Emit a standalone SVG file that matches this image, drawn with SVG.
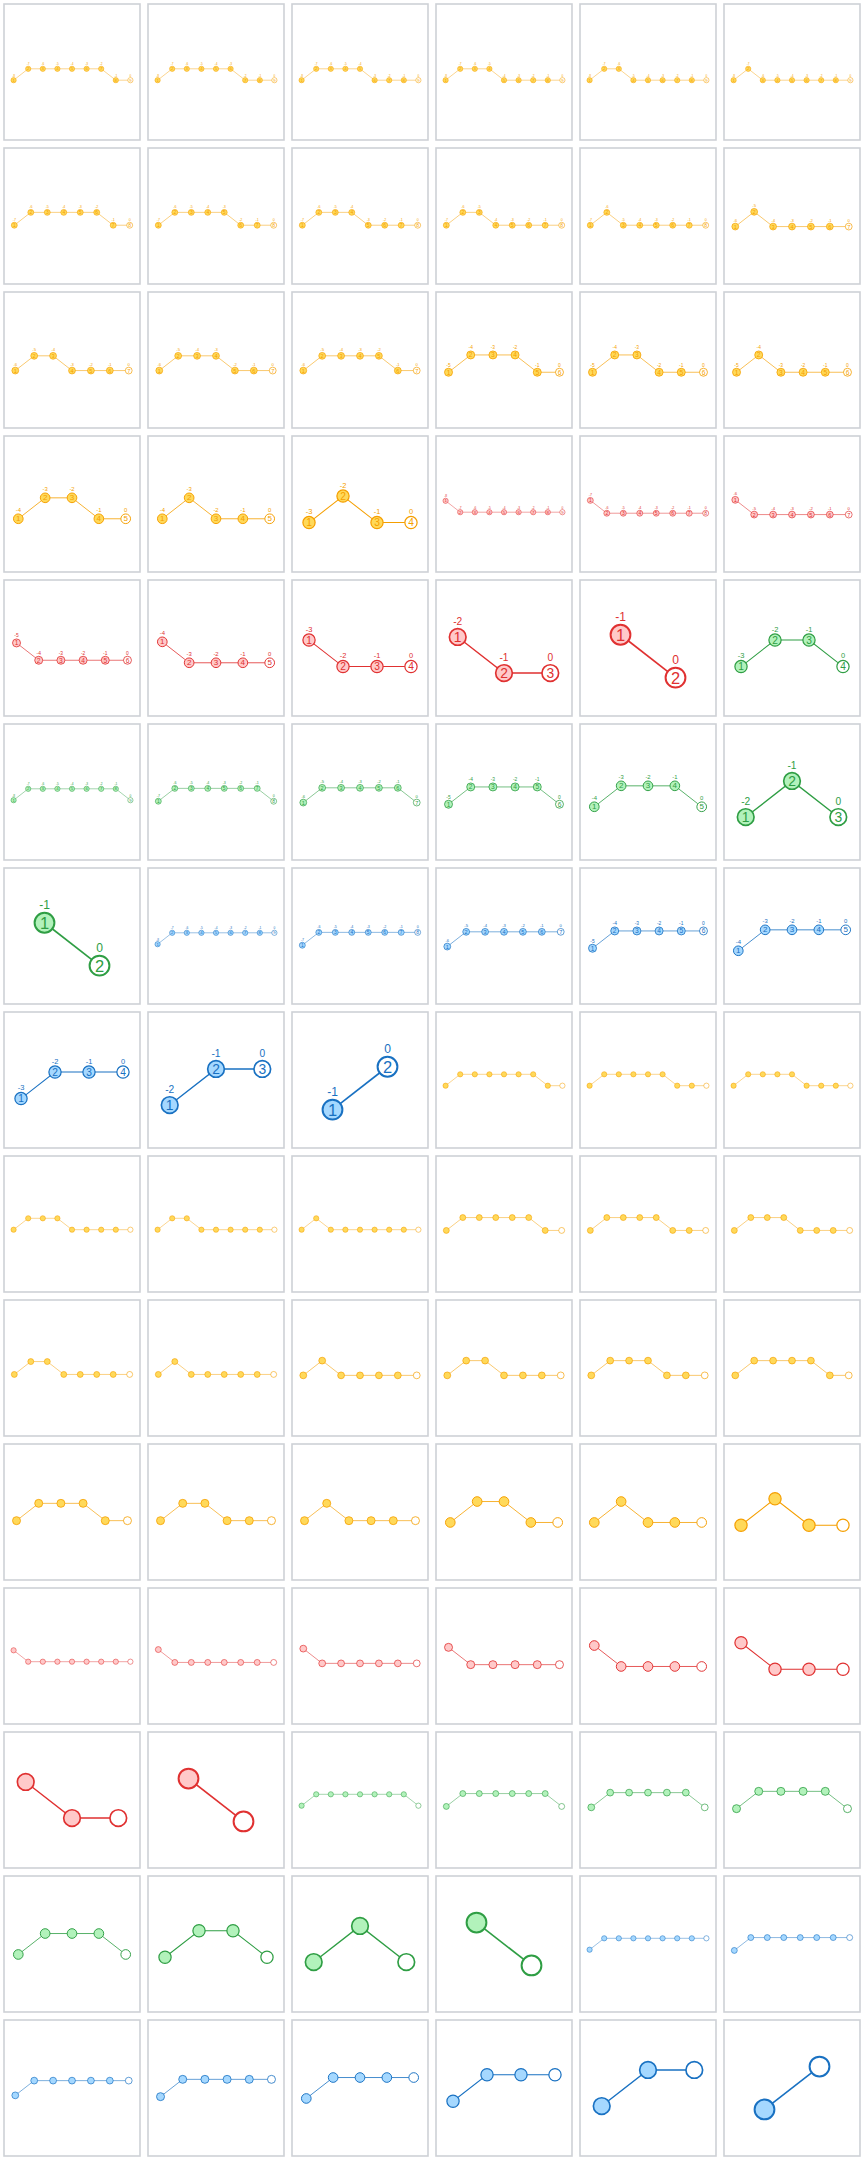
<svg xmlns="http://www.w3.org/2000/svg" width="864" height="2160" viewBox="0 0 864 2160">
<defs>
<pattern id="cell" width="144" height="144" patternUnits="userSpaceOnUse"><rect x="4" y="4" width="136" height="136" fill="#fff" stroke="#ced1d6" stroke-width="1.6"/></pattern>
</defs>
<style>
text{font-family:"Liberation Sans",sans-serif;text-anchor:middle;fill:var(--s)}
.p circle{fill:var(--f);stroke:var(--s);stroke-width:3.6}
.p>g:last-child circle{fill:#fff}
.p polyline{fill:none;stroke:var(--s);stroke-width:3}
.p text{font-size:30px;dominant-baseline:central}
.p text+text{font-size:22px;dominant-baseline:alphabetic}
.Y{--s:#f59f00;--f:#ffd95a}
.R{--s:#e03131;--f:#ffc9c9}
.G{--s:#2f9e44;--f:#b2f2bb}
.B{--s:#1971c2;--f:#a5d8ff}
</style>
<rect width="864" height="2160" fill="#fff"/>
<rect id="frames" width="864" height="2160" fill="url(#cell)"/>

<g id="f01" class="p Y" transform="translate(72,74.5) scale(.146)"><g class="e"><polyline points="-400,39 -300,-39 -200,-39 -100,-39 0,-39 100,-39 200,-39 300,39 400,39"/></g>
<g id="f01n1" transform="translate(-400,39)"><circle r="18"/><text>1</text><text y="-25">-8</text></g><g id="f01n2" transform="translate(-300,-39)"><circle r="18"/><text>2</text><text y="-25">-7</text></g><g id="f01n3" transform="translate(-200,-39)"><circle r="18"/><text>3</text><text y="-25">-6</text></g><g id="f01n4" transform="translate(-100,-39)"><circle r="18"/><text>4</text><text y="-25">-5</text></g><g id="f01n5" transform="translate(0,-39)"><circle r="18"/><text>5</text><text y="-25">-4</text></g><g id="f01n6" transform="translate(100,-39)"><circle r="18"/><text>6</text><text y="-25">-3</text></g><g id="f01n7" transform="translate(200,-39)"><circle r="18"/><text>7</text><text y="-25">-2</text></g><g id="f01n8" transform="translate(300,39)"><circle r="18"/><text>8</text><text y="-25">-1</text></g><g id="f01n9" transform="translate(400,39)"><circle r="18"/><text>9</text><text y="-25">0</text></g></g>

<g id="f02" class="p Y" transform="translate(216,74.5) scale(.146)"><g class="e"><polyline points="-400,39 -300,-39 -200,-39 -100,-39 0,-39 100,-39 200,39 300,39 400,39"/></g>
<g id="f02n1" transform="translate(-400,39)"><circle r="18"/><text>1</text><text y="-25">-8</text></g><g id="f02n2" transform="translate(-300,-39)"><circle r="18"/><text>2</text><text y="-25">-7</text></g><g id="f02n3" transform="translate(-200,-39)"><circle r="18"/><text>3</text><text y="-25">-6</text></g><g id="f02n4" transform="translate(-100,-39)"><circle r="18"/><text>4</text><text y="-25">-5</text></g><g id="f02n5" transform="translate(0,-39)"><circle r="18"/><text>5</text><text y="-25">-4</text></g><g id="f02n6" transform="translate(100,-39)"><circle r="18"/><text>6</text><text y="-25">-3</text></g><g id="f02n7" transform="translate(200,39)"><circle r="18"/><text>7</text><text y="-25">-2</text></g><g id="f02n8" transform="translate(300,39)"><circle r="18"/><text>8</text><text y="-25">-1</text></g><g id="f02n9" transform="translate(400,39)"><circle r="18"/><text>9</text><text y="-25">0</text></g></g>

<g id="f03" class="p Y" transform="translate(360,74.5) scale(.146)"><g class="e"><polyline points="-400,39 -300,-39 -200,-39 -100,-39 0,-39 100,39 200,39 300,39 400,39"/></g>
<g id="f03n1" transform="translate(-400,39)"><circle r="18"/><text>1</text><text y="-25">-8</text></g><g id="f03n2" transform="translate(-300,-39)"><circle r="18"/><text>2</text><text y="-25">-7</text></g><g id="f03n3" transform="translate(-200,-39)"><circle r="18"/><text>3</text><text y="-25">-6</text></g><g id="f03n4" transform="translate(-100,-39)"><circle r="18"/><text>4</text><text y="-25">-5</text></g><g id="f03n5" transform="translate(0,-39)"><circle r="18"/><text>5</text><text y="-25">-4</text></g><g id="f03n6" transform="translate(100,39)"><circle r="18"/><text>6</text><text y="-25">-3</text></g><g id="f03n7" transform="translate(200,39)"><circle r="18"/><text>7</text><text y="-25">-2</text></g><g id="f03n8" transform="translate(300,39)"><circle r="18"/><text>8</text><text y="-25">-1</text></g><g id="f03n9" transform="translate(400,39)"><circle r="18"/><text>9</text><text y="-25">0</text></g></g>

<g id="f04" class="p Y" transform="translate(504,74.5) scale(.146)"><g class="e"><polyline points="-400,39 -300,-39 -200,-39 -100,-39 0,39 100,39 200,39 300,39 400,39"/></g>
<g id="f04n1" transform="translate(-400,39)"><circle r="18"/><text>1</text><text y="-25">-8</text></g><g id="f04n2" transform="translate(-300,-39)"><circle r="18"/><text>2</text><text y="-25">-7</text></g><g id="f04n3" transform="translate(-200,-39)"><circle r="18"/><text>3</text><text y="-25">-6</text></g><g id="f04n4" transform="translate(-100,-39)"><circle r="18"/><text>4</text><text y="-25">-5</text></g><g id="f04n5" transform="translate(0,39)"><circle r="18"/><text>5</text><text y="-25">-4</text></g><g id="f04n6" transform="translate(100,39)"><circle r="18"/><text>6</text><text y="-25">-3</text></g><g id="f04n7" transform="translate(200,39)"><circle r="18"/><text>7</text><text y="-25">-2</text></g><g id="f04n8" transform="translate(300,39)"><circle r="18"/><text>8</text><text y="-25">-1</text></g><g id="f04n9" transform="translate(400,39)"><circle r="18"/><text>9</text><text y="-25">0</text></g></g>

<g id="f05" class="p Y" transform="translate(648,74.5) scale(.146)"><g class="e"><polyline points="-400,39 -300,-39 -200,-39 -100,39 0,39 100,39 200,39 300,39 400,39"/></g>
<g id="f05n1" transform="translate(-400,39)"><circle r="18"/><text>1</text><text y="-25">-8</text></g><g id="f05n2" transform="translate(-300,-39)"><circle r="18"/><text>2</text><text y="-25">-7</text></g><g id="f05n3" transform="translate(-200,-39)"><circle r="18"/><text>3</text><text y="-25">-6</text></g><g id="f05n4" transform="translate(-100,39)"><circle r="18"/><text>4</text><text y="-25">-5</text></g><g id="f05n5" transform="translate(0,39)"><circle r="18"/><text>5</text><text y="-25">-4</text></g><g id="f05n6" transform="translate(100,39)"><circle r="18"/><text>6</text><text y="-25">-3</text></g><g id="f05n7" transform="translate(200,39)"><circle r="18"/><text>7</text><text y="-25">-2</text></g><g id="f05n8" transform="translate(300,39)"><circle r="18"/><text>8</text><text y="-25">-1</text></g><g id="f05n9" transform="translate(400,39)"><circle r="18"/><text>9</text><text y="-25">0</text></g></g>

<g id="f06" class="p Y" transform="translate(792,74.5) scale(.146)"><g class="e"><polyline points="-400,39 -300,-39 -200,39 -100,39 0,39 100,39 200,39 300,39 400,39"/></g>
<g id="f06n1" transform="translate(-400,39)"><circle r="18"/><text>1</text><text y="-25">-8</text></g><g id="f06n2" transform="translate(-300,-39)"><circle r="18"/><text>2</text><text y="-25">-7</text></g><g id="f06n3" transform="translate(-200,39)"><circle r="18"/><text>3</text><text y="-25">-6</text></g><g id="f06n4" transform="translate(-100,39)"><circle r="18"/><text>4</text><text y="-25">-5</text></g><g id="f06n5" transform="translate(0,39)"><circle r="18"/><text>5</text><text y="-25">-4</text></g><g id="f06n6" transform="translate(100,39)"><circle r="18"/><text>6</text><text y="-25">-3</text></g><g id="f06n7" transform="translate(200,39)"><circle r="18"/><text>7</text><text y="-25">-2</text></g><g id="f06n8" transform="translate(300,39)"><circle r="18"/><text>8</text><text y="-25">-1</text></g><g id="f06n9" transform="translate(400,39)"><circle r="18"/><text>9</text><text y="-25">0</text></g></g>

<g id="f07" class="p Y" transform="translate(72,218.8) scale(.1648)"><g class="e"><polyline points="-350,39 -250,-39 -150,-39 -50,-39 50,-39 150,-39 250,39 350,39"/></g>
<g id="f07n1" transform="translate(-350,39)"><circle r="18"/><text>1</text><text y="-25">-7</text></g><g id="f07n2" transform="translate(-250,-39)"><circle r="18"/><text>2</text><text y="-25">-6</text></g><g id="f07n3" transform="translate(-150,-39)"><circle r="18"/><text>3</text><text y="-25">-5</text></g><g id="f07n4" transform="translate(-50,-39)"><circle r="18"/><text>4</text><text y="-25">-4</text></g><g id="f07n5" transform="translate(50,-39)"><circle r="18"/><text>5</text><text y="-25">-3</text></g><g id="f07n6" transform="translate(150,-39)"><circle r="18"/><text>6</text><text y="-25">-2</text></g><g id="f07n7" transform="translate(250,39)"><circle r="18"/><text>7</text><text y="-25">-1</text></g><g id="f07n8" transform="translate(350,39)"><circle r="18"/><text>8</text><text y="-25">0</text></g></g>

<g id="f08" class="p Y" transform="translate(216,218.8) scale(.1648)"><g class="e"><polyline points="-350,39 -250,-39 -150,-39 -50,-39 50,-39 150,39 250,39 350,39"/></g>
<g id="f08n1" transform="translate(-350,39)"><circle r="18"/><text>1</text><text y="-25">-7</text></g><g id="f08n2" transform="translate(-250,-39)"><circle r="18"/><text>2</text><text y="-25">-6</text></g><g id="f08n3" transform="translate(-150,-39)"><circle r="18"/><text>3</text><text y="-25">-5</text></g><g id="f08n4" transform="translate(-50,-39)"><circle r="18"/><text>4</text><text y="-25">-4</text></g><g id="f08n5" transform="translate(50,-39)"><circle r="18"/><text>5</text><text y="-25">-3</text></g><g id="f08n6" transform="translate(150,39)"><circle r="18"/><text>6</text><text y="-25">-2</text></g><g id="f08n7" transform="translate(250,39)"><circle r="18"/><text>7</text><text y="-25">-1</text></g><g id="f08n8" transform="translate(350,39)"><circle r="18"/><text>8</text><text y="-25">0</text></g></g>

<g id="f09" class="p Y" transform="translate(360,218.8) scale(.1648)"><g class="e"><polyline points="-350,39 -250,-39 -150,-39 -50,-39 50,39 150,39 250,39 350,39"/></g>
<g id="f09n1" transform="translate(-350,39)"><circle r="18"/><text>1</text><text y="-25">-7</text></g><g id="f09n2" transform="translate(-250,-39)"><circle r="18"/><text>2</text><text y="-25">-6</text></g><g id="f09n3" transform="translate(-150,-39)"><circle r="18"/><text>3</text><text y="-25">-5</text></g><g id="f09n4" transform="translate(-50,-39)"><circle r="18"/><text>4</text><text y="-25">-4</text></g><g id="f09n5" transform="translate(50,39)"><circle r="18"/><text>5</text><text y="-25">-3</text></g><g id="f09n6" transform="translate(150,39)"><circle r="18"/><text>6</text><text y="-25">-2</text></g><g id="f09n7" transform="translate(250,39)"><circle r="18"/><text>7</text><text y="-25">-1</text></g><g id="f09n8" transform="translate(350,39)"><circle r="18"/><text>8</text><text y="-25">0</text></g></g>

<g id="f10" class="p Y" transform="translate(504,218.8) scale(.1648)"><g class="e"><polyline points="-350,39 -250,-39 -150,-39 -50,39 50,39 150,39 250,39 350,39"/></g>
<g id="f10n1" transform="translate(-350,39)"><circle r="18"/><text>1</text><text y="-25">-7</text></g><g id="f10n2" transform="translate(-250,-39)"><circle r="18"/><text>2</text><text y="-25">-6</text></g><g id="f10n3" transform="translate(-150,-39)"><circle r="18"/><text>3</text><text y="-25">-5</text></g><g id="f10n4" transform="translate(-50,39)"><circle r="18"/><text>4</text><text y="-25">-4</text></g><g id="f10n5" transform="translate(50,39)"><circle r="18"/><text>5</text><text y="-25">-3</text></g><g id="f10n6" transform="translate(150,39)"><circle r="18"/><text>6</text><text y="-25">-2</text></g><g id="f10n7" transform="translate(250,39)"><circle r="18"/><text>7</text><text y="-25">-1</text></g><g id="f10n8" transform="translate(350,39)"><circle r="18"/><text>8</text><text y="-25">0</text></g></g>

<g id="f11" class="p Y" transform="translate(648,218.8) scale(.1648)"><g class="e"><polyline points="-350,39 -250,-39 -150,39 -50,39 50,39 150,39 250,39 350,39"/></g>
<g id="f11n1" transform="translate(-350,39)"><circle r="18"/><text>1</text><text y="-25">-7</text></g><g id="f11n2" transform="translate(-250,-39)"><circle r="18"/><text>2</text><text y="-25">-6</text></g><g id="f11n3" transform="translate(-150,39)"><circle r="18"/><text>3</text><text y="-25">-5</text></g><g id="f11n4" transform="translate(-50,39)"><circle r="18"/><text>4</text><text y="-25">-4</text></g><g id="f11n5" transform="translate(50,39)"><circle r="18"/><text>5</text><text y="-25">-3</text></g><g id="f11n6" transform="translate(150,39)"><circle r="18"/><text>6</text><text y="-25">-2</text></g><g id="f11n7" transform="translate(250,39)"><circle r="18"/><text>7</text><text y="-25">-1</text></g><g id="f11n8" transform="translate(350,39)"><circle r="18"/><text>8</text><text y="-25">0</text></g></g>

<g id="f12" class="p Y" transform="translate(792,219.2) scale(.1891)"><g class="e"><polyline points="-300,39 -200,-39 -100,39 0,39 100,39 200,39 300,39"/></g>
<g id="f12n1" transform="translate(-300,39)"><circle r="18"/><text>1</text><text y="-25">-6</text></g><g id="f12n2" transform="translate(-200,-39)"><circle r="18"/><text>2</text><text y="-25">-5</text></g><g id="f12n3" transform="translate(-100,39)"><circle r="18"/><text>3</text><text y="-25">-4</text></g><g id="f12n4" transform="translate(0,39)"><circle r="18"/><text>4</text><text y="-25">-3</text></g><g id="f12n5" transform="translate(100,39)"><circle r="18"/><text>5</text><text y="-25">-2</text></g><g id="f12n6" transform="translate(200,39)"><circle r="18"/><text>6</text><text y="-25">-1</text></g><g id="f12n7" transform="translate(300,39)"><circle r="18"/><text>7</text><text y="-25">0</text></g></g>

<g id="f13" class="p Y" transform="translate(72,363.2) scale(.1891)"><g class="e"><polyline points="-300,39 -200,-39 -100,-39 0,39 100,39 200,39 300,39"/></g>
<g id="f13n1" transform="translate(-300,39)"><circle r="18"/><text>1</text><text y="-25">-6</text></g><g id="f13n2" transform="translate(-200,-39)"><circle r="18"/><text>2</text><text y="-25">-5</text></g><g id="f13n3" transform="translate(-100,-39)"><circle r="18"/><text>3</text><text y="-25">-4</text></g><g id="f13n4" transform="translate(0,39)"><circle r="18"/><text>4</text><text y="-25">-3</text></g><g id="f13n5" transform="translate(100,39)"><circle r="18"/><text>5</text><text y="-25">-2</text></g><g id="f13n6" transform="translate(200,39)"><circle r="18"/><text>6</text><text y="-25">-1</text></g><g id="f13n7" transform="translate(300,39)"><circle r="18"/><text>7</text><text y="-25">0</text></g></g>

<g id="f14" class="p Y" transform="translate(216,363.2) scale(.1891)"><g class="e"><polyline points="-300,39 -200,-39 -100,-39 0,-39 100,39 200,39 300,39"/></g>
<g id="f14n1" transform="translate(-300,39)"><circle r="18"/><text>1</text><text y="-25">-6</text></g><g id="f14n2" transform="translate(-200,-39)"><circle r="18"/><text>2</text><text y="-25">-5</text></g><g id="f14n3" transform="translate(-100,-39)"><circle r="18"/><text>3</text><text y="-25">-4</text></g><g id="f14n4" transform="translate(0,-39)"><circle r="18"/><text>4</text><text y="-25">-3</text></g><g id="f14n5" transform="translate(100,39)"><circle r="18"/><text>5</text><text y="-25">-2</text></g><g id="f14n6" transform="translate(200,39)"><circle r="18"/><text>6</text><text y="-25">-1</text></g><g id="f14n7" transform="translate(300,39)"><circle r="18"/><text>7</text><text y="-25">0</text></g></g>

<g id="f15" class="p Y" transform="translate(360,363.2) scale(.1891)"><g class="e"><polyline points="-300,39 -200,-39 -100,-39 0,-39 100,-39 200,39 300,39"/></g>
<g id="f15n1" transform="translate(-300,39)"><circle r="18"/><text>1</text><text y="-25">-6</text></g><g id="f15n2" transform="translate(-200,-39)"><circle r="18"/><text>2</text><text y="-25">-5</text></g><g id="f15n3" transform="translate(-100,-39)"><circle r="18"/><text>3</text><text y="-25">-4</text></g><g id="f15n4" transform="translate(0,-39)"><circle r="18"/><text>4</text><text y="-25">-3</text></g><g id="f15n5" transform="translate(100,-39)"><circle r="18"/><text>5</text><text y="-25">-2</text></g><g id="f15n6" transform="translate(200,39)"><circle r="18"/><text>6</text><text y="-25">-1</text></g><g id="f15n7" transform="translate(300,39)"><circle r="18"/><text>7</text><text y="-25">0</text></g></g>

<g id="f16" class="p Y" transform="translate(504,363.6) scale(.2219)"><g class="e"><polyline points="-250,39 -150,-39 -50,-39 50,-39 150,39 250,39"/></g>
<g id="f16n1" transform="translate(-250,39)"><circle r="18"/><text>1</text><text y="-25">-5</text></g><g id="f16n2" transform="translate(-150,-39)"><circle r="18"/><text>2</text><text y="-25">-4</text></g><g id="f16n3" transform="translate(-50,-39)"><circle r="18"/><text>3</text><text y="-25">-3</text></g><g id="f16n4" transform="translate(50,-39)"><circle r="18"/><text>4</text><text y="-25">-2</text></g><g id="f16n5" transform="translate(150,39)"><circle r="18"/><text>5</text><text y="-25">-1</text></g><g id="f16n6" transform="translate(250,39)"><circle r="18"/><text>6</text><text y="-25">0</text></g></g>

<g id="f17" class="p Y" transform="translate(648,363.6) scale(.2219)"><g class="e"><polyline points="-250,39 -150,-39 -50,-39 50,39 150,39 250,39"/></g>
<g id="f17n1" transform="translate(-250,39)"><circle r="18"/><text>1</text><text y="-25">-5</text></g><g id="f17n2" transform="translate(-150,-39)"><circle r="18"/><text>2</text><text y="-25">-4</text></g><g id="f17n3" transform="translate(-50,-39)"><circle r="18"/><text>3</text><text y="-25">-3</text></g><g id="f17n4" transform="translate(50,39)"><circle r="18"/><text>4</text><text y="-25">-2</text></g><g id="f17n5" transform="translate(150,39)"><circle r="18"/><text>5</text><text y="-25">-1</text></g><g id="f17n6" transform="translate(250,39)"><circle r="18"/><text>6</text><text y="-25">0</text></g></g>

<g id="f18" class="p Y" transform="translate(792,363.6) scale(.2219)"><g class="e"><polyline points="-250,39 -150,-39 -50,39 50,39 150,39 250,39"/></g>
<g id="f18n1" transform="translate(-250,39)"><circle r="18"/><text>1</text><text y="-25">-5</text></g><g id="f18n2" transform="translate(-150,-39)"><circle r="18"/><text>2</text><text y="-25">-4</text></g><g id="f18n3" transform="translate(-50,39)"><circle r="18"/><text>3</text><text y="-25">-3</text></g><g id="f18n4" transform="translate(50,39)"><circle r="18"/><text>4</text><text y="-25">-2</text></g><g id="f18n5" transform="translate(150,39)"><circle r="18"/><text>5</text><text y="-25">-1</text></g><g id="f18n6" transform="translate(250,39)"><circle r="18"/><text>6</text><text y="-25">0</text></g></g>

<g id="f19" class="p Y" transform="translate(72,508.3) scale(.2685)"><g class="e"><polyline points="-200,39 -100,-39 0,-39 100,39 200,39"/></g>
<g id="f19n1" transform="translate(-200,39)"><circle r="18"/><text>1</text><text y="-25">-4</text></g><g id="f19n2" transform="translate(-100,-39)"><circle r="18"/><text>2</text><text y="-25">-3</text></g><g id="f19n3" transform="translate(0,-39)"><circle r="18"/><text>3</text><text y="-25">-2</text></g><g id="f19n4" transform="translate(100,39)"><circle r="18"/><text>4</text><text y="-25">-1</text></g><g id="f19n5" transform="translate(200,39)"><circle r="18"/><text>5</text><text y="-25">0</text></g></g>

<g id="f20" class="p Y" transform="translate(216,508.3) scale(.2685)"><g class="e"><polyline points="-200,39 -100,-39 0,39 100,39 200,39"/></g>
<g id="f20n1" transform="translate(-200,39)"><circle r="18"/><text>1</text><text y="-25">-4</text></g><g id="f20n2" transform="translate(-100,-39)"><circle r="18"/><text>2</text><text y="-25">-3</text></g><g id="f20n3" transform="translate(0,39)"><circle r="18"/><text>3</text><text y="-25">-2</text></g><g id="f20n4" transform="translate(100,39)"><circle r="18"/><text>4</text><text y="-25">-1</text></g><g id="f20n5" transform="translate(200,39)"><circle r="18"/><text>5</text><text y="-25">0</text></g></g>

<g id="f21" class="p Y" transform="translate(360,509.3) scale(.3399)"><g class="e"><polyline points="-150,39 -50,-39 50,39 150,39"/></g>
<g id="f21n1" transform="translate(-150,39)"><circle r="18"/><text>1</text><text y="-25">-3</text></g><g id="f21n2" transform="translate(-50,-39)"><circle r="18"/><text>2</text><text y="-25">-2</text></g><g id="f21n3" transform="translate(50,39)"><circle r="18"/><text>3</text><text y="-25">-1</text></g><g id="f21n4" transform="translate(150,39)"><circle r="18"/><text>4</text><text y="-25">0</text></g></g>

<g id="f22" class="p R" transform="translate(504,506.5) scale(.146)"><g class="e"><polyline points="-400,-39 -300,39 -200,39 -100,39 0,39 100,39 200,39 300,39 400,39"/></g>
<g id="f22n1" transform="translate(-400,-39)"><circle r="18"/><text>1</text><text y="-25">-8</text></g><g id="f22n2" transform="translate(-300,39)"><circle r="18"/><text>2</text><text y="-25">-7</text></g><g id="f22n3" transform="translate(-200,39)"><circle r="18"/><text>3</text><text y="-25">-6</text></g><g id="f22n4" transform="translate(-100,39)"><circle r="18"/><text>4</text><text y="-25">-5</text></g><g id="f22n5" transform="translate(0,39)"><circle r="18"/><text>5</text><text y="-25">-4</text></g><g id="f22n6" transform="translate(100,39)"><circle r="18"/><text>6</text><text y="-25">-3</text></g><g id="f22n7" transform="translate(200,39)"><circle r="18"/><text>7</text><text y="-25">-2</text></g><g id="f22n8" transform="translate(300,39)"><circle r="18"/><text>8</text><text y="-25">-1</text></g><g id="f22n9" transform="translate(400,39)"><circle r="18"/><text>9</text><text y="-25">0</text></g></g>

<g id="f23" class="p R" transform="translate(648,506.8) scale(.1648)"><g class="e"><polyline points="-350,-39 -250,39 -150,39 -50,39 50,39 150,39 250,39 350,39"/></g>
<g id="f23n1" transform="translate(-350,-39)"><circle r="18"/><text>1</text><text y="-25">-7</text></g><g id="f23n2" transform="translate(-250,39)"><circle r="18"/><text>2</text><text y="-25">-6</text></g><g id="f23n3" transform="translate(-150,39)"><circle r="18"/><text>3</text><text y="-25">-5</text></g><g id="f23n4" transform="translate(-50,39)"><circle r="18"/><text>4</text><text y="-25">-4</text></g><g id="f23n5" transform="translate(50,39)"><circle r="18"/><text>5</text><text y="-25">-3</text></g><g id="f23n6" transform="translate(150,39)"><circle r="18"/><text>6</text><text y="-25">-2</text></g><g id="f23n7" transform="translate(250,39)"><circle r="18"/><text>7</text><text y="-25">-1</text></g><g id="f23n8" transform="translate(350,39)"><circle r="18"/><text>8</text><text y="-25">0</text></g></g>

<g id="f24" class="p R" transform="translate(792,507.2) scale(.1891)"><g class="e"><polyline points="-300,-39 -200,39 -100,39 0,39 100,39 200,39 300,39"/></g>
<g id="f24n1" transform="translate(-300,-39)"><circle r="18"/><text>1</text><text y="-25">-6</text></g><g id="f24n2" transform="translate(-200,39)"><circle r="18"/><text>2</text><text y="-25">-5</text></g><g id="f24n3" transform="translate(-100,39)"><circle r="18"/><text>3</text><text y="-25">-4</text></g><g id="f24n4" transform="translate(0,39)"><circle r="18"/><text>4</text><text y="-25">-3</text></g><g id="f24n5" transform="translate(100,39)"><circle r="18"/><text>5</text><text y="-25">-2</text></g><g id="f24n6" transform="translate(200,39)"><circle r="18"/><text>6</text><text y="-25">-1</text></g><g id="f24n7" transform="translate(300,39)"><circle r="18"/><text>7</text><text y="-25">0</text></g></g>

<g id="f25" class="p R" transform="translate(72,651.6) scale(.2219)"><g class="e"><polyline points="-250,-39 -150,39 -50,39 50,39 150,39 250,39"/></g>
<g id="f25n1" transform="translate(-250,-39)"><circle r="18"/><text>1</text><text y="-25">-5</text></g><g id="f25n2" transform="translate(-150,39)"><circle r="18"/><text>2</text><text y="-25">-4</text></g><g id="f25n3" transform="translate(-50,39)"><circle r="18"/><text>3</text><text y="-25">-3</text></g><g id="f25n4" transform="translate(50,39)"><circle r="18"/><text>4</text><text y="-25">-2</text></g><g id="f25n5" transform="translate(150,39)"><circle r="18"/><text>5</text><text y="-25">-1</text></g><g id="f25n6" transform="translate(250,39)"><circle r="18"/><text>6</text><text y="-25">0</text></g></g>

<g id="f26" class="p R" transform="translate(216,652.3) scale(.2685)"><g class="e"><polyline points="-200,-39 -100,39 0,39 100,39 200,39"/></g>
<g id="f26n1" transform="translate(-200,-39)"><circle r="18"/><text>1</text><text y="-25">-4</text></g><g id="f26n2" transform="translate(-100,39)"><circle r="18"/><text>2</text><text y="-25">-3</text></g><g id="f26n3" transform="translate(0,39)"><circle r="18"/><text>3</text><text y="-25">-2</text></g><g id="f26n4" transform="translate(100,39)"><circle r="18"/><text>4</text><text y="-25">-1</text></g><g id="f26n5" transform="translate(200,39)"><circle r="18"/><text>5</text><text y="-25">0</text></g></g>

<g id="f27" class="p R" transform="translate(360,653.3) scale(.3399)"><g class="e"><polyline points="-150,-39 -50,39 50,39 150,39"/></g>
<g id="f27n1" transform="translate(-150,-39)"><circle r="18"/><text>1</text><text y="-25">-3</text></g><g id="f27n2" transform="translate(-50,39)"><circle r="18"/><text>2</text><text y="-25">-2</text></g><g id="f27n3" transform="translate(50,39)"><circle r="18"/><text>3</text><text y="-25">-1</text></g><g id="f27n4" transform="translate(150,39)"><circle r="18"/><text>4</text><text y="-25">0</text></g></g>

<g id="f28" class="p R" transform="translate(504,655) scale(.4629)"><g class="e"><polyline points="-100,-39 0,39 100,39"/></g>
<g id="f28n1" transform="translate(-100,-39)"><circle r="18"/><text>1</text><text y="-25">-2</text></g><g id="f28n2" transform="translate(0,39)"><circle r="18"/><text>2</text><text y="-25">-1</text></g><g id="f28n3" transform="translate(100,39)"><circle r="18"/><text>3</text><text y="-25">0</text></g></g>

<g id="f29" class="p R" transform="translate(648,656.2) scale(.55)"><g class="e"><polyline points="-50,-39 50,39"/></g>
<g id="f29n1" transform="translate(-50,-39)"><circle r="18"/><text>1</text><text y="-25">-1</text></g><g id="f29n2" transform="translate(50,39)"><circle r="18"/><text>2</text><text y="-25">0</text></g></g>

<g id="f30" class="p G" transform="translate(792,653.3) scale(.3399)"><g class="e"><polyline points="-150,39 -50,-39 50,-39 150,39"/></g>
<g id="f30n1" transform="translate(-150,39)"><circle r="18"/><text>1</text><text y="-25">-3</text></g><g id="f30n2" transform="translate(-50,-39)"><circle r="18"/><text>2</text><text y="-25">-2</text></g><g id="f30n3" transform="translate(50,-39)"><circle r="18"/><text>3</text><text y="-25">-1</text></g><g id="f30n4" transform="translate(150,39)"><circle r="18"/><text>4</text><text y="-25">0</text></g></g>

<g id="f31" class="p G" transform="translate(72,794.5) scale(.146)"><g class="e"><polyline points="-400,39 -300,-39 -200,-39 -100,-39 0,-39 100,-39 200,-39 300,-39 400,39"/></g>
<g id="f31n1" transform="translate(-400,39)"><circle r="18"/><text>1</text><text y="-25">-8</text></g><g id="f31n2" transform="translate(-300,-39)"><circle r="18"/><text>2</text><text y="-25">-7</text></g><g id="f31n3" transform="translate(-200,-39)"><circle r="18"/><text>3</text><text y="-25">-6</text></g><g id="f31n4" transform="translate(-100,-39)"><circle r="18"/><text>4</text><text y="-25">-5</text></g><g id="f31n5" transform="translate(0,-39)"><circle r="18"/><text>5</text><text y="-25">-4</text></g><g id="f31n6" transform="translate(100,-39)"><circle r="18"/><text>6</text><text y="-25">-3</text></g><g id="f31n7" transform="translate(200,-39)"><circle r="18"/><text>7</text><text y="-25">-2</text></g><g id="f31n8" transform="translate(300,-39)"><circle r="18"/><text>8</text><text y="-25">-1</text></g><g id="f31n9" transform="translate(400,39)"><circle r="18"/><text>9</text><text y="-25">0</text></g></g>

<g id="f32" class="p G" transform="translate(216,794.8) scale(.1648)"><g class="e"><polyline points="-350,39 -250,-39 -150,-39 -50,-39 50,-39 150,-39 250,-39 350,39"/></g>
<g id="f32n1" transform="translate(-350,39)"><circle r="18"/><text>1</text><text y="-25">-7</text></g><g id="f32n2" transform="translate(-250,-39)"><circle r="18"/><text>2</text><text y="-25">-6</text></g><g id="f32n3" transform="translate(-150,-39)"><circle r="18"/><text>3</text><text y="-25">-5</text></g><g id="f32n4" transform="translate(-50,-39)"><circle r="18"/><text>4</text><text y="-25">-4</text></g><g id="f32n5" transform="translate(50,-39)"><circle r="18"/><text>5</text><text y="-25">-3</text></g><g id="f32n6" transform="translate(150,-39)"><circle r="18"/><text>6</text><text y="-25">-2</text></g><g id="f32n7" transform="translate(250,-39)"><circle r="18"/><text>7</text><text y="-25">-1</text></g><g id="f32n8" transform="translate(350,39)"><circle r="18"/><text>8</text><text y="-25">0</text></g></g>

<g id="f33" class="p G" transform="translate(360,795.2) scale(.1891)"><g class="e"><polyline points="-300,39 -200,-39 -100,-39 0,-39 100,-39 200,-39 300,39"/></g>
<g id="f33n1" transform="translate(-300,39)"><circle r="18"/><text>1</text><text y="-25">-6</text></g><g id="f33n2" transform="translate(-200,-39)"><circle r="18"/><text>2</text><text y="-25">-5</text></g><g id="f33n3" transform="translate(-100,-39)"><circle r="18"/><text>3</text><text y="-25">-4</text></g><g id="f33n4" transform="translate(0,-39)"><circle r="18"/><text>4</text><text y="-25">-3</text></g><g id="f33n5" transform="translate(100,-39)"><circle r="18"/><text>5</text><text y="-25">-2</text></g><g id="f33n6" transform="translate(200,-39)"><circle r="18"/><text>6</text><text y="-25">-1</text></g><g id="f33n7" transform="translate(300,39)"><circle r="18"/><text>7</text><text y="-25">0</text></g></g>

<g id="f34" class="p G" transform="translate(504,795.6) scale(.2219)"><g class="e"><polyline points="-250,39 -150,-39 -50,-39 50,-39 150,-39 250,39"/></g>
<g id="f34n1" transform="translate(-250,39)"><circle r="18"/><text>1</text><text y="-25">-5</text></g><g id="f34n2" transform="translate(-150,-39)"><circle r="18"/><text>2</text><text y="-25">-4</text></g><g id="f34n3" transform="translate(-50,-39)"><circle r="18"/><text>3</text><text y="-25">-3</text></g><g id="f34n4" transform="translate(50,-39)"><circle r="18"/><text>4</text><text y="-25">-2</text></g><g id="f34n5" transform="translate(150,-39)"><circle r="18"/><text>5</text><text y="-25">-1</text></g><g id="f34n6" transform="translate(250,39)"><circle r="18"/><text>6</text><text y="-25">0</text></g></g>

<g id="f35" class="p G" transform="translate(648,796.3) scale(.2685)"><g class="e"><polyline points="-200,39 -100,-39 0,-39 100,-39 200,39"/></g>
<g id="f35n1" transform="translate(-200,39)"><circle r="18"/><text>1</text><text y="-25">-4</text></g><g id="f35n2" transform="translate(-100,-39)"><circle r="18"/><text>2</text><text y="-25">-3</text></g><g id="f35n3" transform="translate(0,-39)"><circle r="18"/><text>3</text><text y="-25">-2</text></g><g id="f35n4" transform="translate(100,-39)"><circle r="18"/><text>4</text><text y="-25">-1</text></g><g id="f35n5" transform="translate(200,39)"><circle r="18"/><text>5</text><text y="-25">0</text></g></g>

<g id="f36" class="p G" transform="translate(792,799) scale(.4629)"><g class="e"><polyline points="-100,39 0,-39 100,39"/></g>
<g id="f36n1" transform="translate(-100,39)"><circle r="18"/><text>1</text><text y="-25">-2</text></g><g id="f36n2" transform="translate(0,-39)"><circle r="18"/><text>2</text><text y="-25">-1</text></g><g id="f36n3" transform="translate(100,39)"><circle r="18"/><text>3</text><text y="-25">0</text></g></g>

<g id="f37" class="p G" transform="translate(72,944.2) scale(.55)"><g class="e"><polyline points="-50,-39 50,39"/></g>
<g id="f37n1" transform="translate(-50,-39)"><circle r="18"/><text>1</text><text y="-25">-1</text></g><g id="f37n2" transform="translate(50,39)"><circle r="18"/><text>2</text><text y="-25">0</text></g></g>

<g id="f38" class="p B" transform="translate(216,938.5) scale(.146)"><g class="e"><polyline points="-400,39 -300,-39 -200,-39 -100,-39 0,-39 100,-39 200,-39 300,-39 400,-39"/></g>
<g id="f38n1" transform="translate(-400,39)"><circle r="18"/><text>1</text><text y="-25">-8</text></g><g id="f38n2" transform="translate(-300,-39)"><circle r="18"/><text>2</text><text y="-25">-7</text></g><g id="f38n3" transform="translate(-200,-39)"><circle r="18"/><text>3</text><text y="-25">-6</text></g><g id="f38n4" transform="translate(-100,-39)"><circle r="18"/><text>4</text><text y="-25">-5</text></g><g id="f38n5" transform="translate(0,-39)"><circle r="18"/><text>5</text><text y="-25">-4</text></g><g id="f38n6" transform="translate(100,-39)"><circle r="18"/><text>6</text><text y="-25">-3</text></g><g id="f38n7" transform="translate(200,-39)"><circle r="18"/><text>7</text><text y="-25">-2</text></g><g id="f38n8" transform="translate(300,-39)"><circle r="18"/><text>8</text><text y="-25">-1</text></g><g id="f38n9" transform="translate(400,-39)"><circle r="18"/><text>9</text><text y="-25">0</text></g></g>

<g id="f39" class="p B" transform="translate(360,938.8) scale(.1648)"><g class="e"><polyline points="-350,39 -250,-39 -150,-39 -50,-39 50,-39 150,-39 250,-39 350,-39"/></g>
<g id="f39n1" transform="translate(-350,39)"><circle r="18"/><text>1</text><text y="-25">-7</text></g><g id="f39n2" transform="translate(-250,-39)"><circle r="18"/><text>2</text><text y="-25">-6</text></g><g id="f39n3" transform="translate(-150,-39)"><circle r="18"/><text>3</text><text y="-25">-5</text></g><g id="f39n4" transform="translate(-50,-39)"><circle r="18"/><text>4</text><text y="-25">-4</text></g><g id="f39n5" transform="translate(50,-39)"><circle r="18"/><text>5</text><text y="-25">-3</text></g><g id="f39n6" transform="translate(150,-39)"><circle r="18"/><text>6</text><text y="-25">-2</text></g><g id="f39n7" transform="translate(250,-39)"><circle r="18"/><text>7</text><text y="-25">-1</text></g><g id="f39n8" transform="translate(350,-39)"><circle r="18"/><text>8</text><text y="-25">0</text></g></g>

<g id="f40" class="p B" transform="translate(504,939.2) scale(.1891)"><g class="e"><polyline points="-300,39 -200,-39 -100,-39 0,-39 100,-39 200,-39 300,-39"/></g>
<g id="f40n1" transform="translate(-300,39)"><circle r="18"/><text>1</text><text y="-25">-6</text></g><g id="f40n2" transform="translate(-200,-39)"><circle r="18"/><text>2</text><text y="-25">-5</text></g><g id="f40n3" transform="translate(-100,-39)"><circle r="18"/><text>3</text><text y="-25">-4</text></g><g id="f40n4" transform="translate(0,-39)"><circle r="18"/><text>4</text><text y="-25">-3</text></g><g id="f40n5" transform="translate(100,-39)"><circle r="18"/><text>5</text><text y="-25">-2</text></g><g id="f40n6" transform="translate(200,-39)"><circle r="18"/><text>6</text><text y="-25">-1</text></g><g id="f40n7" transform="translate(300,-39)"><circle r="18"/><text>7</text><text y="-25">0</text></g></g>

<g id="f41" class="p B" transform="translate(648,939.6) scale(.2219)"><g class="e"><polyline points="-250,39 -150,-39 -50,-39 50,-39 150,-39 250,-39"/></g>
<g id="f41n1" transform="translate(-250,39)"><circle r="18"/><text>1</text><text y="-25">-5</text></g><g id="f41n2" transform="translate(-150,-39)"><circle r="18"/><text>2</text><text y="-25">-4</text></g><g id="f41n3" transform="translate(-50,-39)"><circle r="18"/><text>3</text><text y="-25">-3</text></g><g id="f41n4" transform="translate(50,-39)"><circle r="18"/><text>4</text><text y="-25">-2</text></g><g id="f41n5" transform="translate(150,-39)"><circle r="18"/><text>5</text><text y="-25">-1</text></g><g id="f41n6" transform="translate(250,-39)"><circle r="18"/><text>6</text><text y="-25">0</text></g></g>

<g id="f42" class="p B" transform="translate(792,940.3) scale(.2685)"><g class="e"><polyline points="-200,39 -100,-39 0,-39 100,-39 200,-39"/></g>
<g id="f42n1" transform="translate(-200,39)"><circle r="18"/><text>1</text><text y="-25">-4</text></g><g id="f42n2" transform="translate(-100,-39)"><circle r="18"/><text>2</text><text y="-25">-3</text></g><g id="f42n3" transform="translate(0,-39)"><circle r="18"/><text>3</text><text y="-25">-2</text></g><g id="f42n4" transform="translate(100,-39)"><circle r="18"/><text>4</text><text y="-25">-1</text></g><g id="f42n5" transform="translate(200,-39)"><circle r="18"/><text>5</text><text y="-25">0</text></g></g>

<g id="f43" class="p B" transform="translate(72,1085.3) scale(.3399)"><g class="e"><polyline points="-150,39 -50,-39 50,-39 150,-39"/></g>
<g id="f43n1" transform="translate(-150,39)"><circle r="18"/><text>1</text><text y="-25">-3</text></g><g id="f43n2" transform="translate(-50,-39)"><circle r="18"/><text>2</text><text y="-25">-2</text></g><g id="f43n3" transform="translate(50,-39)"><circle r="18"/><text>3</text><text y="-25">-1</text></g><g id="f43n4" transform="translate(150,-39)"><circle r="18"/><text>4</text><text y="-25">0</text></g></g>

<g id="f44" class="p B" transform="translate(216,1087) scale(.4629)"><g class="e"><polyline points="-100,39 0,-39 100,-39"/></g>
<g id="f44n1" transform="translate(-100,39)"><circle r="18"/><text>1</text><text y="-25">-2</text></g><g id="f44n2" transform="translate(0,-39)"><circle r="18"/><text>2</text><text y="-25">-1</text></g><g id="f44n3" transform="translate(100,-39)"><circle r="18"/><text>3</text><text y="-25">0</text></g></g>

<g id="f45" class="p B" transform="translate(360,1088.2) scale(.55)"><g class="e"><polyline points="-50,39 50,-39"/></g>
<g id="f45n1" transform="translate(-50,39)"><circle r="18"/><text>1</text><text y="-25">-1</text></g><g id="f45n2" transform="translate(50,-39)"><circle r="18"/><text>2</text><text y="-25">0</text></g></g>

<g id="f46" class="p Y" transform="translate(504,1080) scale(.146)"><g class="e"><polyline points="-400,39 -300,-39 -200,-39 -100,-39 0,-39 100,-39 200,-39 300,39 400,39"/></g>
<g id="f46n1"><circle cx="-400" cy="39" r="18"/></g><g id="f46n2"><circle cx="-300" cy="-39" r="18"/></g><g id="f46n3"><circle cx="-200" cy="-39" r="18"/></g><g id="f46n4"><circle cx="-100" cy="-39" r="18"/></g><g id="f46n5"><circle cx="0" cy="-39" r="18"/></g><g id="f46n6"><circle cx="100" cy="-39" r="18"/></g><g id="f46n7"><circle cx="200" cy="-39" r="18"/></g><g id="f46n8"><circle cx="300" cy="39" r="18"/></g><g id="f46n9"><circle cx="400" cy="39" r="18"/></g></g>

<g id="f47" class="p Y" transform="translate(648,1080) scale(.146)"><g class="e"><polyline points="-400,39 -300,-39 -200,-39 -100,-39 0,-39 100,-39 200,39 300,39 400,39"/></g>
<g id="f47n1"><circle cx="-400" cy="39" r="18"/></g><g id="f47n2"><circle cx="-300" cy="-39" r="18"/></g><g id="f47n3"><circle cx="-200" cy="-39" r="18"/></g><g id="f47n4"><circle cx="-100" cy="-39" r="18"/></g><g id="f47n5"><circle cx="0" cy="-39" r="18"/></g><g id="f47n6"><circle cx="100" cy="-39" r="18"/></g><g id="f47n7"><circle cx="200" cy="39" r="18"/></g><g id="f47n8"><circle cx="300" cy="39" r="18"/></g><g id="f47n9"><circle cx="400" cy="39" r="18"/></g></g>

<g id="f48" class="p Y" transform="translate(792,1080) scale(.146)"><g class="e"><polyline points="-400,39 -300,-39 -200,-39 -100,-39 0,-39 100,39 200,39 300,39 400,39"/></g>
<g id="f48n1"><circle cx="-400" cy="39" r="18"/></g><g id="f48n2"><circle cx="-300" cy="-39" r="18"/></g><g id="f48n3"><circle cx="-200" cy="-39" r="18"/></g><g id="f48n4"><circle cx="-100" cy="-39" r="18"/></g><g id="f48n5"><circle cx="0" cy="-39" r="18"/></g><g id="f48n6"><circle cx="100" cy="39" r="18"/></g><g id="f48n7"><circle cx="200" cy="39" r="18"/></g><g id="f48n8"><circle cx="300" cy="39" r="18"/></g><g id="f48n9"><circle cx="400" cy="39" r="18"/></g></g>

<g id="f49" class="p Y" transform="translate(72,1224) scale(.146)"><g class="e"><polyline points="-400,39 -300,-39 -200,-39 -100,-39 0,39 100,39 200,39 300,39 400,39"/></g>
<g id="f49n1"><circle cx="-400" cy="39" r="18"/></g><g id="f49n2"><circle cx="-300" cy="-39" r="18"/></g><g id="f49n3"><circle cx="-200" cy="-39" r="18"/></g><g id="f49n4"><circle cx="-100" cy="-39" r="18"/></g><g id="f49n5"><circle cx="0" cy="39" r="18"/></g><g id="f49n6"><circle cx="100" cy="39" r="18"/></g><g id="f49n7"><circle cx="200" cy="39" r="18"/></g><g id="f49n8"><circle cx="300" cy="39" r="18"/></g><g id="f49n9"><circle cx="400" cy="39" r="18"/></g></g>

<g id="f50" class="p Y" transform="translate(216,1224) scale(.146)"><g class="e"><polyline points="-400,39 -300,-39 -200,-39 -100,39 0,39 100,39 200,39 300,39 400,39"/></g>
<g id="f50n1"><circle cx="-400" cy="39" r="18"/></g><g id="f50n2"><circle cx="-300" cy="-39" r="18"/></g><g id="f50n3"><circle cx="-200" cy="-39" r="18"/></g><g id="f50n4"><circle cx="-100" cy="39" r="18"/></g><g id="f50n5"><circle cx="0" cy="39" r="18"/></g><g id="f50n6"><circle cx="100" cy="39" r="18"/></g><g id="f50n7"><circle cx="200" cy="39" r="18"/></g><g id="f50n8"><circle cx="300" cy="39" r="18"/></g><g id="f50n9"><circle cx="400" cy="39" r="18"/></g></g>

<g id="f51" class="p Y" transform="translate(360,1224) scale(.146)"><g class="e"><polyline points="-400,39 -300,-39 -200,39 -100,39 0,39 100,39 200,39 300,39 400,39"/></g>
<g id="f51n1"><circle cx="-400" cy="39" r="18"/></g><g id="f51n2"><circle cx="-300" cy="-39" r="18"/></g><g id="f51n3"><circle cx="-200" cy="39" r="18"/></g><g id="f51n4"><circle cx="-100" cy="39" r="18"/></g><g id="f51n5"><circle cx="0" cy="39" r="18"/></g><g id="f51n6"><circle cx="100" cy="39" r="18"/></g><g id="f51n7"><circle cx="200" cy="39" r="18"/></g><g id="f51n8"><circle cx="300" cy="39" r="18"/></g><g id="f51n9"><circle cx="400" cy="39" r="18"/></g></g>

<g id="f52" class="p Y" transform="translate(504,1224) scale(.1648)"><g class="e"><polyline points="-350,39 -250,-39 -150,-39 -50,-39 50,-39 150,-39 250,39 350,39"/></g>
<g id="f52n1"><circle cx="-350" cy="39" r="18"/></g><g id="f52n2"><circle cx="-250" cy="-39" r="18"/></g><g id="f52n3"><circle cx="-150" cy="-39" r="18"/></g><g id="f52n4"><circle cx="-50" cy="-39" r="18"/></g><g id="f52n5"><circle cx="50" cy="-39" r="18"/></g><g id="f52n6"><circle cx="150" cy="-39" r="18"/></g><g id="f52n7"><circle cx="250" cy="39" r="18"/></g><g id="f52n8"><circle cx="350" cy="39" r="18"/></g></g>

<g id="f53" class="p Y" transform="translate(648,1224) scale(.1648)"><g class="e"><polyline points="-350,39 -250,-39 -150,-39 -50,-39 50,-39 150,39 250,39 350,39"/></g>
<g id="f53n1"><circle cx="-350" cy="39" r="18"/></g><g id="f53n2"><circle cx="-250" cy="-39" r="18"/></g><g id="f53n3"><circle cx="-150" cy="-39" r="18"/></g><g id="f53n4"><circle cx="-50" cy="-39" r="18"/></g><g id="f53n5"><circle cx="50" cy="-39" r="18"/></g><g id="f53n6"><circle cx="150" cy="39" r="18"/></g><g id="f53n7"><circle cx="250" cy="39" r="18"/></g><g id="f53n8"><circle cx="350" cy="39" r="18"/></g></g>

<g id="f54" class="p Y" transform="translate(792,1224) scale(.1648)"><g class="e"><polyline points="-350,39 -250,-39 -150,-39 -50,-39 50,39 150,39 250,39 350,39"/></g>
<g id="f54n1"><circle cx="-350" cy="39" r="18"/></g><g id="f54n2"><circle cx="-250" cy="-39" r="18"/></g><g id="f54n3"><circle cx="-150" cy="-39" r="18"/></g><g id="f54n4"><circle cx="-50" cy="-39" r="18"/></g><g id="f54n5"><circle cx="50" cy="39" r="18"/></g><g id="f54n6"><circle cx="150" cy="39" r="18"/></g><g id="f54n7"><circle cx="250" cy="39" r="18"/></g><g id="f54n8"><circle cx="350" cy="39" r="18"/></g></g>

<g id="f55" class="p Y" transform="translate(72,1368) scale(.1648)"><g class="e"><polyline points="-350,39 -250,-39 -150,-39 -50,39 50,39 150,39 250,39 350,39"/></g>
<g id="f55n1"><circle cx="-350" cy="39" r="18"/></g><g id="f55n2"><circle cx="-250" cy="-39" r="18"/></g><g id="f55n3"><circle cx="-150" cy="-39" r="18"/></g><g id="f55n4"><circle cx="-50" cy="39" r="18"/></g><g id="f55n5"><circle cx="50" cy="39" r="18"/></g><g id="f55n6"><circle cx="150" cy="39" r="18"/></g><g id="f55n7"><circle cx="250" cy="39" r="18"/></g><g id="f55n8"><circle cx="350" cy="39" r="18"/></g></g>

<g id="f56" class="p Y" transform="translate(216,1368) scale(.1648)"><g class="e"><polyline points="-350,39 -250,-39 -150,39 -50,39 50,39 150,39 250,39 350,39"/></g>
<g id="f56n1"><circle cx="-350" cy="39" r="18"/></g><g id="f56n2"><circle cx="-250" cy="-39" r="18"/></g><g id="f56n3"><circle cx="-150" cy="39" r="18"/></g><g id="f56n4"><circle cx="-50" cy="39" r="18"/></g><g id="f56n5"><circle cx="50" cy="39" r="18"/></g><g id="f56n6"><circle cx="150" cy="39" r="18"/></g><g id="f56n7"><circle cx="250" cy="39" r="18"/></g><g id="f56n8"><circle cx="350" cy="39" r="18"/></g></g>

<g id="f57" class="p Y" transform="translate(360,1368) scale(.1891)"><g class="e"><polyline points="-300,39 -200,-39 -100,39 0,39 100,39 200,39 300,39"/></g>
<g id="f57n1"><circle cx="-300" cy="39" r="18"/></g><g id="f57n2"><circle cx="-200" cy="-39" r="18"/></g><g id="f57n3"><circle cx="-100" cy="39" r="18"/></g><g id="f57n4"><circle cx="0" cy="39" r="18"/></g><g id="f57n5"><circle cx="100" cy="39" r="18"/></g><g id="f57n6"><circle cx="200" cy="39" r="18"/></g><g id="f57n7"><circle cx="300" cy="39" r="18"/></g></g>

<g id="f58" class="p Y" transform="translate(504,1368) scale(.1891)"><g class="e"><polyline points="-300,39 -200,-39 -100,-39 0,39 100,39 200,39 300,39"/></g>
<g id="f58n1"><circle cx="-300" cy="39" r="18"/></g><g id="f58n2"><circle cx="-200" cy="-39" r="18"/></g><g id="f58n3"><circle cx="-100" cy="-39" r="18"/></g><g id="f58n4"><circle cx="0" cy="39" r="18"/></g><g id="f58n5"><circle cx="100" cy="39" r="18"/></g><g id="f58n6"><circle cx="200" cy="39" r="18"/></g><g id="f58n7"><circle cx="300" cy="39" r="18"/></g></g>

<g id="f59" class="p Y" transform="translate(648,1368) scale(.1891)"><g class="e"><polyline points="-300,39 -200,-39 -100,-39 0,-39 100,39 200,39 300,39"/></g>
<g id="f59n1"><circle cx="-300" cy="39" r="18"/></g><g id="f59n2"><circle cx="-200" cy="-39" r="18"/></g><g id="f59n3"><circle cx="-100" cy="-39" r="18"/></g><g id="f59n4"><circle cx="0" cy="-39" r="18"/></g><g id="f59n5"><circle cx="100" cy="39" r="18"/></g><g id="f59n6"><circle cx="200" cy="39" r="18"/></g><g id="f59n7"><circle cx="300" cy="39" r="18"/></g></g>

<g id="f60" class="p Y" transform="translate(792,1368) scale(.1891)"><g class="e"><polyline points="-300,39 -200,-39 -100,-39 0,-39 100,-39 200,39 300,39"/></g>
<g id="f60n1"><circle cx="-300" cy="39" r="18"/></g><g id="f60n2"><circle cx="-200" cy="-39" r="18"/></g><g id="f60n3"><circle cx="-100" cy="-39" r="18"/></g><g id="f60n4"><circle cx="0" cy="-39" r="18"/></g><g id="f60n5"><circle cx="100" cy="-39" r="18"/></g><g id="f60n6"><circle cx="200" cy="39" r="18"/></g><g id="f60n7"><circle cx="300" cy="39" r="18"/></g></g>

<g id="f61" class="p Y" transform="translate(72,1512) scale(.2219)"><g class="e"><polyline points="-250,39 -150,-39 -50,-39 50,-39 150,39 250,39"/></g>
<g id="f61n1"><circle cx="-250" cy="39" r="18"/></g><g id="f61n2"><circle cx="-150" cy="-39" r="18"/></g><g id="f61n3"><circle cx="-50" cy="-39" r="18"/></g><g id="f61n4"><circle cx="50" cy="-39" r="18"/></g><g id="f61n5"><circle cx="150" cy="39" r="18"/></g><g id="f61n6"><circle cx="250" cy="39" r="18"/></g></g>

<g id="f62" class="p Y" transform="translate(216,1512) scale(.2219)"><g class="e"><polyline points="-250,39 -150,-39 -50,-39 50,39 150,39 250,39"/></g>
<g id="f62n1"><circle cx="-250" cy="39" r="18"/></g><g id="f62n2"><circle cx="-150" cy="-39" r="18"/></g><g id="f62n3"><circle cx="-50" cy="-39" r="18"/></g><g id="f62n4"><circle cx="50" cy="39" r="18"/></g><g id="f62n5"><circle cx="150" cy="39" r="18"/></g><g id="f62n6"><circle cx="250" cy="39" r="18"/></g></g>

<g id="f63" class="p Y" transform="translate(360,1512) scale(.2219)"><g class="e"><polyline points="-250,39 -150,-39 -50,39 50,39 150,39 250,39"/></g>
<g id="f63n1"><circle cx="-250" cy="39" r="18"/></g><g id="f63n2"><circle cx="-150" cy="-39" r="18"/></g><g id="f63n3"><circle cx="-50" cy="39" r="18"/></g><g id="f63n4"><circle cx="50" cy="39" r="18"/></g><g id="f63n5"><circle cx="150" cy="39" r="18"/></g><g id="f63n6"><circle cx="250" cy="39" r="18"/></g></g>

<g id="f64" class="p Y" transform="translate(504,1512) scale(.2685)"><g class="e"><polyline points="-200,39 -100,-39 0,-39 100,39 200,39"/></g>
<g id="f64n1"><circle cx="-200" cy="39" r="18"/></g><g id="f64n2"><circle cx="-100" cy="-39" r="18"/></g><g id="f64n3"><circle cx="0" cy="-39" r="18"/></g><g id="f64n4"><circle cx="100" cy="39" r="18"/></g><g id="f64n5"><circle cx="200" cy="39" r="18"/></g></g>

<g id="f65" class="p Y" transform="translate(648,1512) scale(.2685)"><g class="e"><polyline points="-200,39 -100,-39 0,39 100,39 200,39"/></g>
<g id="f65n1"><circle cx="-200" cy="39" r="18"/></g><g id="f65n2"><circle cx="-100" cy="-39" r="18"/></g><g id="f65n3"><circle cx="0" cy="39" r="18"/></g><g id="f65n4"><circle cx="100" cy="39" r="18"/></g><g id="f65n5"><circle cx="200" cy="39" r="18"/></g></g>

<g id="f66" class="p Y" transform="translate(792,1512) scale(.3399)"><g class="e"><polyline points="-150,39 -50,-39 50,39 150,39"/></g>
<g id="f66n1"><circle cx="-150" cy="39" r="18"/></g><g id="f66n2"><circle cx="-50" cy="-39" r="18"/></g><g id="f66n3"><circle cx="50" cy="39" r="18"/></g><g id="f66n4"><circle cx="150" cy="39" r="18"/></g></g>

<g id="f67" class="p R" transform="translate(72,1656) scale(.146)"><g class="e"><polyline points="-400,-39 -300,39 -200,39 -100,39 0,39 100,39 200,39 300,39 400,39"/></g>
<g id="f67n1"><circle cx="-400" cy="-39" r="18"/></g><g id="f67n2"><circle cx="-300" cy="39" r="18"/></g><g id="f67n3"><circle cx="-200" cy="39" r="18"/></g><g id="f67n4"><circle cx="-100" cy="39" r="18"/></g><g id="f67n5"><circle cx="0" cy="39" r="18"/></g><g id="f67n6"><circle cx="100" cy="39" r="18"/></g><g id="f67n7"><circle cx="200" cy="39" r="18"/></g><g id="f67n8"><circle cx="300" cy="39" r="18"/></g><g id="f67n9"><circle cx="400" cy="39" r="18"/></g></g>

<g id="f68" class="p R" transform="translate(216,1656) scale(.1648)"><g class="e"><polyline points="-350,-39 -250,39 -150,39 -50,39 50,39 150,39 250,39 350,39"/></g>
<g id="f68n1"><circle cx="-350" cy="-39" r="18"/></g><g id="f68n2"><circle cx="-250" cy="39" r="18"/></g><g id="f68n3"><circle cx="-150" cy="39" r="18"/></g><g id="f68n4"><circle cx="-50" cy="39" r="18"/></g><g id="f68n5"><circle cx="50" cy="39" r="18"/></g><g id="f68n6"><circle cx="150" cy="39" r="18"/></g><g id="f68n7"><circle cx="250" cy="39" r="18"/></g><g id="f68n8"><circle cx="350" cy="39" r="18"/></g></g>

<g id="f69" class="p R" transform="translate(360,1656) scale(.1891)"><g class="e"><polyline points="-300,-39 -200,39 -100,39 0,39 100,39 200,39 300,39"/></g>
<g id="f69n1"><circle cx="-300" cy="-39" r="18"/></g><g id="f69n2"><circle cx="-200" cy="39" r="18"/></g><g id="f69n3"><circle cx="-100" cy="39" r="18"/></g><g id="f69n4"><circle cx="0" cy="39" r="18"/></g><g id="f69n5"><circle cx="100" cy="39" r="18"/></g><g id="f69n6"><circle cx="200" cy="39" r="18"/></g><g id="f69n7"><circle cx="300" cy="39" r="18"/></g></g>

<g id="f70" class="p R" transform="translate(504,1656) scale(.2219)"><g class="e"><polyline points="-250,-39 -150,39 -50,39 50,39 150,39 250,39"/></g>
<g id="f70n1"><circle cx="-250" cy="-39" r="18"/></g><g id="f70n2"><circle cx="-150" cy="39" r="18"/></g><g id="f70n3"><circle cx="-50" cy="39" r="18"/></g><g id="f70n4"><circle cx="50" cy="39" r="18"/></g><g id="f70n5"><circle cx="150" cy="39" r="18"/></g><g id="f70n6"><circle cx="250" cy="39" r="18"/></g></g>

<g id="f71" class="p R" transform="translate(648,1656) scale(.2685)"><g class="e"><polyline points="-200,-39 -100,39 0,39 100,39 200,39"/></g>
<g id="f71n1"><circle cx="-200" cy="-39" r="18"/></g><g id="f71n2"><circle cx="-100" cy="39" r="18"/></g><g id="f71n3"><circle cx="0" cy="39" r="18"/></g><g id="f71n4"><circle cx="100" cy="39" r="18"/></g><g id="f71n5"><circle cx="200" cy="39" r="18"/></g></g>

<g id="f72" class="p R" transform="translate(792,1656) scale(.3399)"><g class="e"><polyline points="-150,-39 -50,39 50,39 150,39"/></g>
<g id="f72n1"><circle cx="-150" cy="-39" r="18"/></g><g id="f72n2"><circle cx="-50" cy="39" r="18"/></g><g id="f72n3"><circle cx="50" cy="39" r="18"/></g><g id="f72n4"><circle cx="150" cy="39" r="18"/></g></g>

<g id="f73" class="p R" transform="translate(72,1800) scale(.4629)"><g class="e"><polyline points="-100,-39 0,39 100,39"/></g>
<g id="f73n1"><circle cx="-100" cy="-39" r="18"/></g><g id="f73n2"><circle cx="0" cy="39" r="18"/></g><g id="f73n3"><circle cx="100" cy="39" r="18"/></g></g>

<g id="f74" class="p R" transform="translate(216,1800) scale(.55)"><g class="e"><polyline points="-50,-39 50,39"/></g>
<g id="f74n1"><circle cx="-50" cy="-39" r="18"/></g><g id="f74n2"><circle cx="50" cy="39" r="18"/></g></g>

<g id="f75" class="p G" transform="translate(360,1800) scale(.146)"><g class="e"><polyline points="-400,39 -300,-39 -200,-39 -100,-39 0,-39 100,-39 200,-39 300,-39 400,39"/></g>
<g id="f75n1"><circle cx="-400" cy="39" r="18"/></g><g id="f75n2"><circle cx="-300" cy="-39" r="18"/></g><g id="f75n3"><circle cx="-200" cy="-39" r="18"/></g><g id="f75n4"><circle cx="-100" cy="-39" r="18"/></g><g id="f75n5"><circle cx="0" cy="-39" r="18"/></g><g id="f75n6"><circle cx="100" cy="-39" r="18"/></g><g id="f75n7"><circle cx="200" cy="-39" r="18"/></g><g id="f75n8"><circle cx="300" cy="-39" r="18"/></g><g id="f75n9"><circle cx="400" cy="39" r="18"/></g></g>

<g id="f76" class="p G" transform="translate(504,1800) scale(.1648)"><g class="e"><polyline points="-350,39 -250,-39 -150,-39 -50,-39 50,-39 150,-39 250,-39 350,39"/></g>
<g id="f76n1"><circle cx="-350" cy="39" r="18"/></g><g id="f76n2"><circle cx="-250" cy="-39" r="18"/></g><g id="f76n3"><circle cx="-150" cy="-39" r="18"/></g><g id="f76n4"><circle cx="-50" cy="-39" r="18"/></g><g id="f76n5"><circle cx="50" cy="-39" r="18"/></g><g id="f76n6"><circle cx="150" cy="-39" r="18"/></g><g id="f76n7"><circle cx="250" cy="-39" r="18"/></g><g id="f76n8"><circle cx="350" cy="39" r="18"/></g></g>

<g id="f77" class="p G" transform="translate(648,1800) scale(.1891)"><g class="e"><polyline points="-300,39 -200,-39 -100,-39 0,-39 100,-39 200,-39 300,39"/></g>
<g id="f77n1"><circle cx="-300" cy="39" r="18"/></g><g id="f77n2"><circle cx="-200" cy="-39" r="18"/></g><g id="f77n3"><circle cx="-100" cy="-39" r="18"/></g><g id="f77n4"><circle cx="0" cy="-39" r="18"/></g><g id="f77n5"><circle cx="100" cy="-39" r="18"/></g><g id="f77n6"><circle cx="200" cy="-39" r="18"/></g><g id="f77n7"><circle cx="300" cy="39" r="18"/></g></g>

<g id="f78" class="p G" transform="translate(792,1800) scale(.2219)"><g class="e"><polyline points="-250,39 -150,-39 -50,-39 50,-39 150,-39 250,39"/></g>
<g id="f78n1"><circle cx="-250" cy="39" r="18"/></g><g id="f78n2"><circle cx="-150" cy="-39" r="18"/></g><g id="f78n3"><circle cx="-50" cy="-39" r="18"/></g><g id="f78n4"><circle cx="50" cy="-39" r="18"/></g><g id="f78n5"><circle cx="150" cy="-39" r="18"/></g><g id="f78n6"><circle cx="250" cy="39" r="18"/></g></g>

<g id="f79" class="p G" transform="translate(72,1944) scale(.2685)"><g class="e"><polyline points="-200,39 -100,-39 0,-39 100,-39 200,39"/></g>
<g id="f79n1"><circle cx="-200" cy="39" r="18"/></g><g id="f79n2"><circle cx="-100" cy="-39" r="18"/></g><g id="f79n3"><circle cx="0" cy="-39" r="18"/></g><g id="f79n4"><circle cx="100" cy="-39" r="18"/></g><g id="f79n5"><circle cx="200" cy="39" r="18"/></g></g>

<g id="f80" class="p G" transform="translate(216,1944) scale(.3399)"><g class="e"><polyline points="-150,39 -50,-39 50,-39 150,39"/></g>
<g id="f80n1"><circle cx="-150" cy="39" r="18"/></g><g id="f80n2"><circle cx="-50" cy="-39" r="18"/></g><g id="f80n3"><circle cx="50" cy="-39" r="18"/></g><g id="f80n4"><circle cx="150" cy="39" r="18"/></g></g>

<g id="f81" class="p G" transform="translate(360,1944) scale(.4629)"><g class="e"><polyline points="-100,39 0,-39 100,39"/></g>
<g id="f81n1"><circle cx="-100" cy="39" r="18"/></g><g id="f81n2"><circle cx="0" cy="-39" r="18"/></g><g id="f81n3"><circle cx="100" cy="39" r="18"/></g></g>

<g id="f82" class="p G" transform="translate(504,1944) scale(.55)"><g class="e"><polyline points="-50,-39 50,39"/></g>
<g id="f82n1"><circle cx="-50" cy="-39" r="18"/></g><g id="f82n2"><circle cx="50" cy="39" r="18"/></g></g>

<g id="f83" class="p B" transform="translate(648,1944) scale(.146)"><g class="e"><polyline points="-400,39 -300,-39 -200,-39 -100,-39 0,-39 100,-39 200,-39 300,-39 400,-39"/></g>
<g id="f83n1"><circle cx="-400" cy="39" r="18"/></g><g id="f83n2"><circle cx="-300" cy="-39" r="18"/></g><g id="f83n3"><circle cx="-200" cy="-39" r="18"/></g><g id="f83n4"><circle cx="-100" cy="-39" r="18"/></g><g id="f83n5"><circle cx="0" cy="-39" r="18"/></g><g id="f83n6"><circle cx="100" cy="-39" r="18"/></g><g id="f83n7"><circle cx="200" cy="-39" r="18"/></g><g id="f83n8"><circle cx="300" cy="-39" r="18"/></g><g id="f83n9"><circle cx="400" cy="-39" r="18"/></g></g>

<g id="f84" class="p B" transform="translate(792,1944) scale(.1648)"><g class="e"><polyline points="-350,39 -250,-39 -150,-39 -50,-39 50,-39 150,-39 250,-39 350,-39"/></g>
<g id="f84n1"><circle cx="-350" cy="39" r="18"/></g><g id="f84n2"><circle cx="-250" cy="-39" r="18"/></g><g id="f84n3"><circle cx="-150" cy="-39" r="18"/></g><g id="f84n4"><circle cx="-50" cy="-39" r="18"/></g><g id="f84n5"><circle cx="50" cy="-39" r="18"/></g><g id="f84n6"><circle cx="150" cy="-39" r="18"/></g><g id="f84n7"><circle cx="250" cy="-39" r="18"/></g><g id="f84n8"><circle cx="350" cy="-39" r="18"/></g></g>

<g id="f85" class="p B" transform="translate(72,2088) scale(.1891)"><g class="e"><polyline points="-300,39 -200,-39 -100,-39 0,-39 100,-39 200,-39 300,-39"/></g>
<g id="f85n1"><circle cx="-300" cy="39" r="18"/></g><g id="f85n2"><circle cx="-200" cy="-39" r="18"/></g><g id="f85n3"><circle cx="-100" cy="-39" r="18"/></g><g id="f85n4"><circle cx="0" cy="-39" r="18"/></g><g id="f85n5"><circle cx="100" cy="-39" r="18"/></g><g id="f85n6"><circle cx="200" cy="-39" r="18"/></g><g id="f85n7"><circle cx="300" cy="-39" r="18"/></g></g>

<g id="f86" class="p B" transform="translate(216,2088) scale(.2219)"><g class="e"><polyline points="-250,39 -150,-39 -50,-39 50,-39 150,-39 250,-39"/></g>
<g id="f86n1"><circle cx="-250" cy="39" r="18"/></g><g id="f86n2"><circle cx="-150" cy="-39" r="18"/></g><g id="f86n3"><circle cx="-50" cy="-39" r="18"/></g><g id="f86n4"><circle cx="50" cy="-39" r="18"/></g><g id="f86n5"><circle cx="150" cy="-39" r="18"/></g><g id="f86n6"><circle cx="250" cy="-39" r="18"/></g></g>

<g id="f87" class="p B" transform="translate(360,2088) scale(.2685)"><g class="e"><polyline points="-200,39 -100,-39 0,-39 100,-39 200,-39"/></g>
<g id="f87n1"><circle cx="-200" cy="39" r="18"/></g><g id="f87n2"><circle cx="-100" cy="-39" r="18"/></g><g id="f87n3"><circle cx="0" cy="-39" r="18"/></g><g id="f87n4"><circle cx="100" cy="-39" r="18"/></g><g id="f87n5"><circle cx="200" cy="-39" r="18"/></g></g>

<g id="f88" class="p B" transform="translate(504,2088) scale(.3399)"><g class="e"><polyline points="-150,39 -50,-39 50,-39 150,-39"/></g>
<g id="f88n1"><circle cx="-150" cy="39" r="18"/></g><g id="f88n2"><circle cx="-50" cy="-39" r="18"/></g><g id="f88n3"><circle cx="50" cy="-39" r="18"/></g><g id="f88n4"><circle cx="150" cy="-39" r="18"/></g></g>

<g id="f89" class="p B" transform="translate(648,2088) scale(.4629)"><g class="e"><polyline points="-100,39 0,-39 100,-39"/></g>
<g id="f89n1"><circle cx="-100" cy="39" r="18"/></g><g id="f89n2"><circle cx="0" cy="-39" r="18"/></g><g id="f89n3"><circle cx="100" cy="-39" r="18"/></g></g>

<g id="f90" class="p B" transform="translate(792,2088) scale(.55)"><g class="e"><polyline points="-50,39 50,-39"/></g>
<g id="f90n1"><circle cx="-50" cy="39" r="18"/></g><g id="f90n2"><circle cx="50" cy="-39" r="18"/></g></g>
</svg>
